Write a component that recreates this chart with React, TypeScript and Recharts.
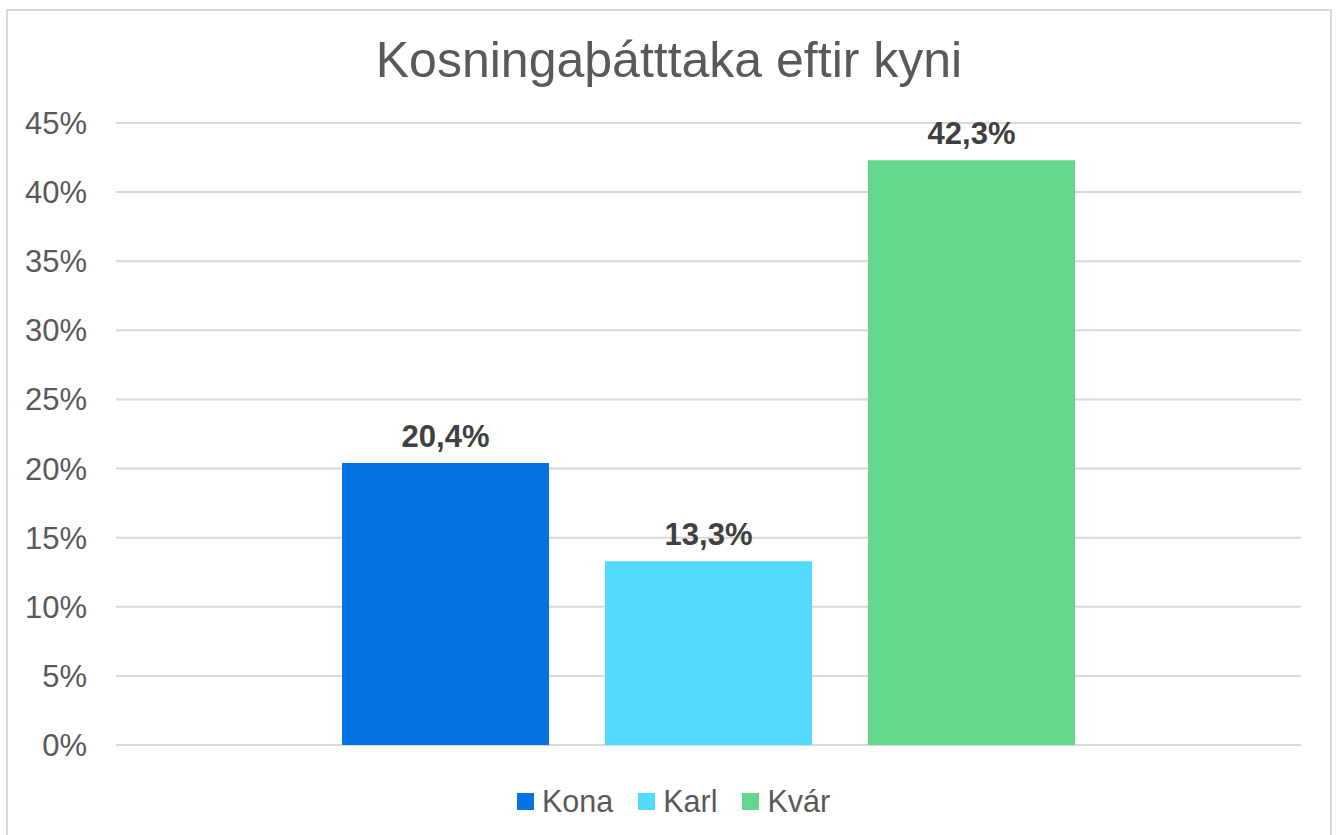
import { BarChart, Bar, XAxis, YAxis, CartesianGrid, LabelList } from "recharts";

const title = "Kosningaþátttaka eftir kyni";
const seriesKeys = ["kona", "karl", "kvar"];
const seriesNames = ["Kona", "Karl", "Kvár"];
const seriesColors = ["#0573E1", "#52DAFF", "#65D78D"];
const seriesValues = [20.4, 13.3, 42.3];
const yTicks = [0, 5, 10, 15, 20, 25, 30, 35, 40, 45];

const row: Record<string, number | string> = { name: "" };
seriesKeys.forEach((k, i) => {
  row[k] = seriesValues[i];
});
const data = [row];

const font = "'Liberation Sans', Arial, sans-serif";

const fmtLabel = (v: any) => Number(v).toFixed(1).replace(".", ",") + "%";

export default function App() {
  return (
    <div
      style={{
        position: "absolute",
        left: 0,
        top: 0,
        width: 1338,
        height: 835,
        overflow: "hidden",
        background: "#fff",
        fontFamily: font,
      }}
    >
      <div
        style={{
          position: "absolute",
          left: 6,
          top: 9,
          width: 1322,
          height: 900,
          border: "2px solid #d9d9d9",
        }}
      />
      <div
        style={{
          position: "absolute",
          left: 0,
          top: 35,
          width: 1338,
          textAlign: "center",
          fontSize: 50,
          lineHeight: "50px",
          color: "#595959",
        }}
      >
        {title}
      </div>
      <div style={{ position: "absolute", left: 0, top: 0 }}>
        <BarChart
          width={1338}
          height={835}
          data={data}
          margin={{ top: 123, right: 37, left: 0, bottom: 90 }}
          barCategoryGap={226}
          barGap={56}
        >
          <CartesianGrid vertical={false} stroke="#d9d9d9" strokeWidth={2} />
          <XAxis dataKey="name" hide />
          <YAxis
            width={116}
            domain={[0, 45]}
            ticks={yTicks}
            interval={0}
            axisLine={false}
            tickLine={false}
            tickSize={0}
            tickMargin={29}
            tickFormatter={(v) => v + "%"}
            tick={{ fill: "#595959", fontSize: 31, fontFamily: font }}
          />
          {seriesKeys.map((k, i) => (
            <Bar key={k} dataKey={k} name={seriesNames[i]} fill={seriesColors[i]} isAnimationActive={false}>
              <LabelList
                dataKey={k}
                position="top"
                offset={16}
                formatter={fmtLabel}
                style={{ fill: "#404040", fontSize: 31, fontWeight: "bold", fontFamily: font }}
              />
            </Bar>
          ))}
        </BarChart>
      </div>
      <div
        style={{
          position: "absolute",
          left: 517,
          top: 786,
          display: "flex",
          alignItems: "center",
          fontSize: 30.5,
          lineHeight: "31px",
          color: "#595959",
        }}
      >
        {seriesNames.map((n, i) => (
          <div key={n} style={{ display: "flex", alignItems: "center", marginRight: 25 }}>
            <span style={{ width: 17, height: 17, background: seriesColors[i], marginRight: 8 }} />
            <span>{n}</span>
          </div>
        ))}
      </div>
    </div>
  );
}
